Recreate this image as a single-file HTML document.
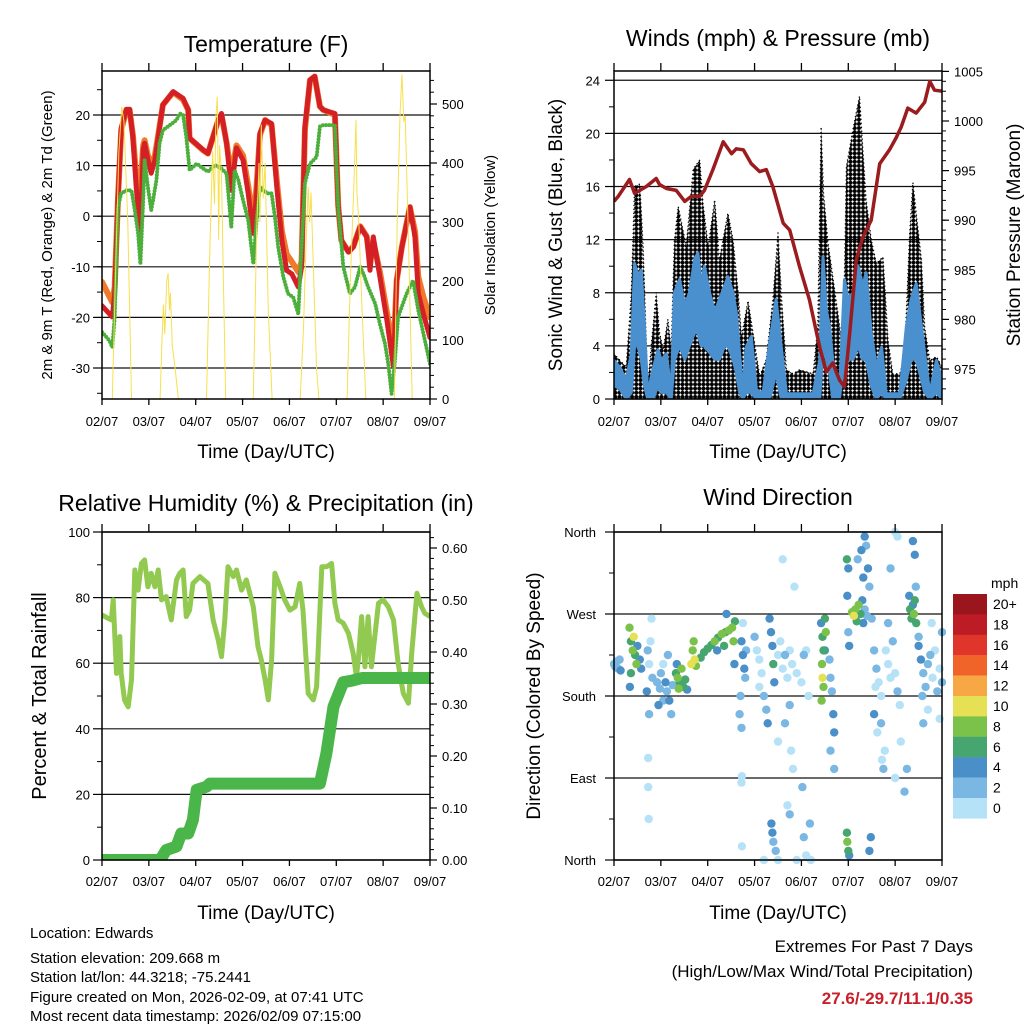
<!DOCTYPE html>
<html><head><meta charset="utf-8"><style>
html,body{margin:0;padding:0;background:#fff;}
svg{display:block;font-family:"Liberation Sans",Arial,sans-serif;}
</style></head><body>
<svg id="fig" width="1024" height="1024" viewBox="0 0 1024 1024" xmlns="http://www.w3.org/2000/svg">
<defs>
<pattern id="gustdots" width="4.2" height="4.2" patternUnits="userSpaceOnUse"><circle cx="2.1" cy="2.1" r="2.05" fill="#000"/></pattern>
<clipPath id="c1"><rect x="102" y="71" width="328" height="328"/></clipPath>
<clipPath id="c2"><rect x="614" y="71" width="328" height="328"/></clipPath>
<clipPath id="c3"><rect x="102" y="532" width="328" height="328"/></clipPath>
<clipPath id="c4"><rect x="610" y="528" width="336" height="336"/></clipPath>
</defs>
<text x="266" y="52" font-size="23" text-anchor="middle">Temperature (F)</text>
<text x="778" y="46" font-size="23" text-anchor="middle">Winds (mph) &amp; Pressure (mb)</text>
<text x="266" y="511" font-size="23" text-anchor="middle">Relative Humidity (%) &amp; Precipitation (in)</text>
<text x="778" y="505" font-size="23" text-anchor="middle">Wind Direction</text>

<text transform="translate(52,235) rotate(-90)" font-size="15" text-anchor="middle">2m &amp; 9m T (Red, Orange) &amp; 2m Td (Green)</text>
<text transform="translate(495,235) rotate(-90)" font-size="15" text-anchor="middle">Solar Insolation (Yellow)</text>
<text transform="translate(562,235) rotate(-90)" font-size="19" text-anchor="middle">Sonic Wind &amp; Gust (Blue, Black)</text>
<text transform="translate(1020,235) rotate(-90)" font-size="19" text-anchor="middle">Station Pressure (Maroon)</text>
<text transform="translate(46,696) rotate(-90)" font-size="20" text-anchor="middle">Percent &amp; Total Rainfall</text>
<text transform="translate(540,696) rotate(-90)" font-size="19" text-anchor="middle">Direction (Colored By Speed)</text>

<text x="266" y="458" font-size="19" text-anchor="middle">Time (Day/UTC)</text>
<text x="778" y="458" font-size="19" text-anchor="middle">Time (Day/UTC)</text>
<text x="266" y="919" font-size="19" text-anchor="middle">Time (Day/UTC)</text>
<text x="778" y="919" font-size="19" text-anchor="middle">Time (Day/UTC)</text>

<g font-size="15">
<text x="30" y="938">Location: Edwards</text>
<text x="30" y="963">Station elevation: 209.668 m</text>
<text x="30" y="982">Station lat/lon: 44.3218; -75.2441</text>
<text x="30" y="1002">Figure created on Mon, 2026-02-09, at 07:41 UTC</text>
<text x="30" y="1021">Most recent data timestamp: 2026/02/09 07:15:00</text>
</g>
<g text-anchor="end">
<text x="973" y="952" font-size="17">Extremes For Past 7 Days</text>
<text x="973" y="977" font-size="17">(High/Low/Max Wind/Total Precipitation)</text>
<text x="973" y="1004" font-size="17" font-weight="bold" fill="#c8202a">27.6/-29.7/11.1/0.35</text>
</g>
<g id="layer"></g>
</svg>
<script>
// ---------- data ----------
const dayLabels = ['02/07','03/07','04/07','05/07','06/07','07/07','08/07','09/07'];
// Temperature (F)
const tempTimes = [0,0.22,0.27,0.34,0.41,0.52,0.59,0.66,0.73,0.82,0.88,0.91,0.98,1.05,1.13,1.20,1.30,1.52,1.73,1.84,1.87,2.16,2.26,2.37,2.48,2.55,2.66,2.76,2.87,3.01,3.12,3.23,3.30,3.37,3.48,3.62,3.73,3.84,3.94,4.05,4.19,4.26,4.33,4.44,4.54,4.65,4.72,4.97,5.04,5.11,5.26,5.36,5.51,5.65,5.72,5.79,5.93,6.08,6.22,6.29,6.40,6.57,6.68,6.75,6.86,7.0];
const temp2mRed = [-17.7,-19.9,-15.3,3.2,17.4,21.1,21.1,15.6,5.8,-3.4,13.1,14.4,11.1,8.5,11.1,15.7,22.0,24.6,23.3,21.0,15.4,13.1,12.4,15.7,19.0,20.3,14.4,5.1,13.5,11.1,4.5,-3.4,4.5,16.4,19.0,18.3,5.8,-4.8,-10.7,-11.4,-14.0,-10.0,17.7,26.9,27.6,21.7,21.0,20.3,2.2,-4.8,-7.1,-6.1,-2.1,-4.1,-10.7,-4.1,-12.0,-20.6,-29.8,-12.7,-6.1,1.8,-4.1,-15.3,-19.3,-24.0];
const temp9mOrange = [-13,-17,-14,3,17,21,21,16,8,5,14,15,12,10,12,16,22,24.5,23,21,15.4,13,12.4,15.7,19,20,14.5,8,14,12,6,-1,6,16,19,18,7,-3,-7.5,-9,-11,-9,17,26.9,27.6,21.7,21,20,2,-4.8,-7,-6,-2,-4,-9,-5,-11,-19,-27,-12.7,-6,1.8,-3,-12,-16,-20];
const dewTimes = [0,0.16,0.22,0.27,0.34,0.41,0.52,0.63,0.70,0.77,0.82,0.88,0.91,0.98,1.05,1.09,1.16,1.23,1.30,1.45,1.59,1.66,1.73,1.80,1.87,2.02,2.16,2.26,2.41,2.55,2.66,2.76,2.83,2.91,3.01,3.12,3.23,3.30,3.37,3.44,3.55,3.62,3.69,3.76,3.87,3.97,4.08,4.19,4.26,4.33,4.44,4.58,4.65,4.72,4.97,5.04,5.15,5.29,5.40,5.51,5.58,5.68,5.83,5.93,6.04,6.11,6.18,6.25,6.32,6.50,6.64,6.75,6.86,7.0];
const dewGreen = [-22.9,-24.6,-25.9,-19.9,1.8,4.5,5.1,5.1,1.2,-3.4,-9.4,3.2,11.1,5.8,1.2,3.2,7.1,14.4,17.0,18.0,19.0,20.3,20.0,15.7,9.1,10.4,9.4,8.8,10.1,9.4,8.4,-2.1,9.1,7.1,3.2,-0.8,-9.4,-0.8,5.8,5.1,4.5,4.5,-0.1,-6.1,-12.0,-15.3,-16.0,-19.3,-6.1,6.5,10.4,11.7,17.7,18.0,18.0,1.8,-10.0,-15.3,-14.0,-10.0,-11.4,-14.0,-17.3,-21.3,-25.2,-29.2,-35.1,-28.5,-19.9,-15.3,-12.7,-18.6,-23.2,-29.2];
const solarTimes = [0,0.22,0.30,0.36,0.42,0.47,0.55,0.63,1.24,1.28,1.31,1.34,1.38,1.41,1.44,1.46,1.50,1.55,1.63,2.23,2.30,2.36,2.40,2.43,2.46,2.49,2.51,2.55,2.59,2.64,3.23,3.30,3.35,3.37,3.40,3.44,3.48,3.55,3.63,4.23,4.30,4.35,4.40,4.43,4.46,4.52,4.58,4.63,5.23,5.30,5.36,5.42,5.44,5.48,5.55,5.63,6.24,6.30,6.36,6.40,6.44,6.47,6.53,6.62,7.0];
const solarYellow = [0,0,250,420,495,470,300,0,0,100,160,110,200,213,150,180,90,60,0,0,250,420,330,480,512,270,430,380,200,0,0,280,400,300,465,340,400,150,0,0,120,250,360,300,350,200,50,0,0,200,330,473,350,300,150,0,0,300,480,550,470,480,300,0,0];
// Winds (mph) & pressure (mb)
const windTimes = [0,0.12,0.26,0.37,0.44,0.51,0.58,0.65,0.72,0.83,0.94,1.01,1.12,1.22,1.29,1.40,1.51,1.61,1.72,1.79,1.86,1.93,2.04,2.15,2.25,2.36,2.43,2.54,2.61,2.68,2.75,2.82,2.93,3.04,3.18,3.32,3.46,3.57,3.68,3.96,4.25,4.39,4.46,4.53,4.60,4.67,4.81,4.92,4.99,5.10,5.21,5.31,5.38,5.49,5.60,5.71,5.81,6.10,6.24,6.34,6.45,6.56,6.63,6.74,6.88,7.0];
const windHigh = [2.9,2.4,1.4,3.4,10.2,9.2,9.7,5.5,0.4,2.2,3.7,2.9,3.4,0.4,8.0,9.0,7.0,8.0,10.5,11.0,8.5,10.0,8.0,6.5,7.5,8.5,9.2,8.0,6.5,3.4,0.4,3.9,4.7,0.7,0.4,4.2,7.5,3.9,0.4,0.4,0.4,2.9,10.7,6.7,5.5,2.9,0.4,9.0,7.5,8.0,10.0,8.5,9.5,5.0,2.4,3.9,0.4,0.4,5.5,7.5,8.7,5.5,3.4,0.4,2.9,1.4];
const windLow = [1.0,0.8,0,0.5,4,4,3,1,0,0,1,0.5,0.5,0,3,4,3,4,5,5,4,4,3.5,3,3,4,4,3,2,0.5,0,0.5,0.5,0,0,0,2,0,0,0,0,0,4,3,2,0,0,3,3,3,4,3,3,1,0,0.5,0,0,1.5,3,3,1.5,0.5,0,0.5,0];
const gustTimes = [0,0.26,0.37,0.44,0.55,0.62,0.72,0.80,0.90,0.97,1.05,1.15,1.22,1.29,1.37,1.54,1.69,1.83,1.90,2.01,2.15,2.25,2.43,2.54,2.65,2.72,2.86,2.97,3.11,3.25,3.39,3.50,3.57,3.68,3.82,3.96,4.25,4.35,4.42,4.47,4.57,4.67,4.78,4.89,4.96,5.10,5.24,5.31,5.38,5.49,5.60,5.74,5.85,5.95,6.10,6.20,6.31,6.38,6.45,6.56,6.63,6.74,6.88,7.0];
const gustBlack = [3.4,2.4,7.9,16.0,16.2,11.5,1.0,4.2,8.0,5.0,3.7,6.0,3.7,11.9,14.5,11.5,17.3,18.0,14.7,11.5,15.0,10.5,14.0,12.0,8.0,4.7,7.4,4.9,1.7,3.0,7.4,12.5,7.9,2.2,1.9,2.2,1.9,5.4,20.5,15.5,11.7,9.2,6.4,3.4,17.5,20.3,22.8,18.8,15.0,12.0,10.2,10.7,4.4,1.9,1.9,3.2,12.5,16.3,14.0,10.5,5.4,2.9,3.2,2.4];
const pressTimes = [0,0.09,0.33,0.44,0.55,0.69,0.90,0.97,1.12,1.33,1.51,1.65,1.83,1.93,2.11,2.33,2.51,2.61,2.76,2.93,3.11,3.25,3.39,3.61,3.75,3.96,4.17,4.39,4.53,4.67,4.81,4.92,5.03,5.17,5.31,5.49,5.67,5.88,6.02,6.13,6.27,6.45,6.63,6.74,6.84,7.0];
const pressMaroon = [991.9,992.4,994.1,992.7,993.0,993.4,994.2,993.6,993.2,993.0,991.9,992.4,992.4,993.0,995.1,997.9,996.7,997.2,997.1,995.7,994.9,995.1,993.4,989.7,989.0,985.3,982.0,977.2,974.7,975.6,973.9,973.2,978.6,986.0,988.3,990.0,995.7,997.1,998.3,999.4,1001.3,1000.8,1001.9,1004.0,1003.1,1003.0];
// Relative humidity (%) & precipitation (in)
const rhTimes = [0,0.13,0.20,0.24,0.31,0.38,0.41,0.48,0.56,0.63,0.70,0.77,0.84,0.91,0.98,1.05,1.13,1.20,1.27,1.37,1.48,1.59,1.66,1.73,1.80,1.87,1.94,2.09,2.26,2.37,2.48,2.55,2.62,2.69,2.80,2.87,2.98,3.08,3.23,3.33,3.40,3.48,3.55,3.62,3.69,3.80,3.90,4.01,4.12,4.22,4.29,4.40,4.51,4.58,4.69,4.79,4.90,4.97,5.04,5.15,5.26,5.36,5.43,5.47,5.54,5.61,5.68,5.75,5.90,6.00,6.11,6.22,6.32,6.43,6.54,6.61,6.72,6.82,6.89,7.0];
const rhValues = [74.7,73.7,73.2,79.3,56.9,68.1,56.9,48.8,46.7,54.9,88.4,82.3,90.4,91.5,83.3,87.4,83.3,88.4,79.3,80.3,73.2,85.4,87.4,88.4,74.2,76.2,84.3,86.4,84.3,73.2,67.1,62.0,73.2,89.4,86.4,88.4,82.3,85.4,77.2,65.0,61.0,54.9,48.8,61.0,87.4,83.3,79.3,76.2,77.2,84.3,76.2,50.8,48.8,52.8,89.4,89.4,90.4,78.3,73.2,72.2,69.1,63.0,55.9,61.0,74.2,58.9,74.2,58.9,78.3,79.3,77.2,73.2,60.0,50.8,47.8,63.0,81.3,77.2,75.2,74.2];
const rainTimes = [0,1.24,1.37,1.59,1.69,1.84,1.94,2.02,2.23,2.30,2.94,4.65,4.79,4.94,5.15,5.34,5.55,7.0];
const rainValues = [0,0,0.019,0.026,0.051,0.051,0.077,0.135,0.141,0.147,0.147,0.147,0.205,0.295,0.342,0.345,0.35,0.35];
// Wind direction (deg) colored by speed (mph)
const dirT = [0,0.03,0.06,0.09,0.12,0.14,
 0.33,0.36,0.40,0.42,0.45,0.48,0.50,0.36,0.55,0.58,0.34,
 0.72,0.75,0.78,0.82,0.70,0.75,0.92,0.95,0.98,1.0,1.05,1.10,1.13,1.18,1.22,1.25,1.05,1.15,0.73,0.73,0.74,0.8,
 1.32,1.36,1.40,1.44,1.48,1.52,1.56,1.38,1.34,
 1.65,1.68,1.72,1.75,1.70,
 1.85,1.92,2.0,2.08,2.15,2.22,2.30,2.38,2.45,2.52,2.58,2.55,2.35,2.20,2.40,2.57,
 2.72,2.75,2.78,2.80,2.70,2.68,2.72,2.73,2.72,2.73,2.75,2.82,
 3.0,3.05,3.1,3.15,3.2,3.25,3.28,3.32,3.35,3.38,3.40,3.42,3.36,3.38,3.40,3.45,3.5,3.55,3.6,3.65,3.7,3.75,3.8,3.78,3.82,3.85,3.6,3.1,3.5,3.65,3.75,3.9,4.0,4.05,4.1,4.15,4.02,4.05,4.1,4.18,3.2,3.5,3.9,4.2,3.7,3.75,
 4.42,4.45,4.47,4.44,4.45,4.47,4.50,4.52,4.50,4.43,4.6,4.62,4.65,4.68,4.70,4.62,4.7,
 4.97,5.0,4.98,5.0,5.02,4.97,4.98,5.0,5.02,
 5.08,5.12,5.15,5.18,5.22,5.26,5.30,5.32,5.35,5.40,5.28,5.32,5.35,5.38,5.42,5.45,5.20,5.5,5.48,5.45,5.55,5.6,5.65,5.58,5.7,5.72,5.75,5.55,5.8,5.85,5.9,5.95,6.0,5.85,5.9,6.05,6.1,6.12,6.0,6.05,5.7,5.62,5.78,
 6.32,6.35,6.38,6.40,6.42,6.45,6.30,6.44,6.38,6.42,6.5,6.55,6.6,6.65,6.7,6.75,6.8,6.85,6.9,6.95,7.0,6.5,6.58,6.6,6.7,6.78,6.95,7.0,6.2,6.25,6.0];
const dirD = [215,212,218,210,220,208,
 255,240,230,245,225,215,235,205,220,210,190,
 230,215,240,200,185,160,195,170,188,205,175,195,185,175,160,192,215,225,112,80,45,265,
 205,200,195,210,190,198,187,188,215,
 215,230,220,213,240,
 222,228,232,236,240,244,248,250,252,255,262,240,235,230,270,215,
 240,225,210,200,180,160,145,92,85,15,260,230,
 245,230,220,205,180,165,150,265,250,235,215,195,40,30,20,10,225,240,210,225,200,230,215,120,100,300,330,190,130,150,170,205,195,225,230,180,80,25,5,40,0,0,0,0,60,50,
 260,245,230,215,200,190,265,250,230,175,220,200,185,160,140,120,100,
 330,320,290,250,235,30,20,10,5,
 272,268,275,262,280,270,285,260,275,268,340,310,355,345,320,300,330,265,25,10,230,210,195,190,150,110,100,160,230,215,200,240,205,260,320,185,170,130,360,355,180,140,120,
 275,265,280,270,285,260,290,300,350,335,235,220,205,190,215,225,200,230,185,210,195,245,180,150,165,260,155,250,75,100,90];
const dirS = [2,2,2,2,2,4,
 8,6,8,10,6,8,4,6,4,4,4,
 2,0,0,2,4,2,2,4,2,2,2,4,2,4,2,2,0,2,0,0,0,0,
 6,8,6,8,6,6,4,8,4,
 10,8,10,8,8,
 6,6,6,6,8,6,8,6,8,8,6,8,6,4,4,4,
 4,4,4,2,2,2,2,0,0,0,0,2,
 2,0,0,0,2,2,4,4,4,4,6,4,4,4,2,2,0,0,0,2,0,0,0,0,0,0,0,0,0,2,2,0,0,2,0,0,2,2,0,2,0,0,0,0,0,2,
 4,6,6,8,10,8,6,8,4,8,2,2,2,4,4,2,2,
 6,4,4,2,4,6,8,6,4,
 8,10,8,6,8,6,4,4,2,2,4,4,4,2,4,2,2,2,4,4,2,2,0,0,2,0,2,4,0,0,0,2,0,2,2,2,0,0,0,0,0,0,0,
 6,6,4,8,6,6,4,2,4,4,4,4,2,2,2,2,0,0,2,0,2,2,2,2,0,0,0,2,2,2,0];
const speedLabels = ['20+','18','16','14','12','10','8','6','4','2','0'];
const speedColors = ['#9a161c','#bd1c26','#e0352b','#f0642a','#f7a845','#e6e055','#7bc24a','#47a670','#4a8fc8','#7ab8e3','#b5e2f7'];

// ---------- helpers ----------
const NS = 'http://www.w3.org/2000/svg';
const layer = document.getElementById('layer');
function mk(tag, attrs, parent) {
  const e = document.createElementNS(NS, tag);
  for (const k in attrs) e.setAttribute(k, attrs[k]);
  (parent || layer).appendChild(e);
  return e;
}
function xScale(L, R) { return d => L + d * (R - L) / 7; }
function linePath(ts, vs, xf, yf) {
  return ts.map((t, i) => (i ? 'L' : 'M') + xf(t).toFixed(1) + ',' + yf(vs[i]).toFixed(1)).join('');
}
function frame(L, T, R, B, labelY, name) {
  const g = mk('g', {});
  
  
  const xf = xScale(L, R);
  dayLabels.forEach((lab, i) => {
    const x = xf(i);
    mk('line', {x1: x, y1: T - 8, x2: x, y2: T, stroke: '#000', 'stroke-width': 1.3}, g);
    mk('line', {x1: x, y1: B, x2: x, y2: B + 6, stroke: '#000', 'stroke-width': 1.3}, g);
    const t = mk('text', {x: x, y: labelY, 'font-size': 13, 'text-anchor': 'middle'}, g);
    
    
    t.textContent = lab;
  });
  mk('rect', {x: L, y: T, width: R - L, height: B - T, fill: 'none', stroke: '#000', 'stroke-width': 1.5}, g);
  return g;
}
function yAxis(vals, labels, yf, x, side, L, R, grid, minor) {
  const g = mk('g', {});
  
  
  vals.forEach((v, i) => {
    const y = yf(v);
    if (side === 'left') {
      mk('line', {x1: L - 9, y1: y, x2: L, y2: y, stroke: '#000', 'stroke-width': 1.2}, g);
      if (grid) mk('line', {x1: L, y1: y, x2: R, y2: y, stroke: '#111', 'stroke-width': 1.2}, g);
    } else {
      mk('line', {x1: R, y1: y, x2: R + 7, y2: y, stroke: '#000', 'stroke-width': 1.2}, g);
    }
    const t = mk('text', {x: x, y: y + 5, 'font-size': 13, 'text-anchor': side === 'left' ? 'end' : 'start'}, g);
    
    
    t.textContent = labels[i];
  });
  (minor || []).forEach(v => {
    const y = yf(v);
    if (side === 'left') mk('line', {x1: L - 5, y1: y, x2: L, y2: y, stroke: '#000', 'stroke-width': 1}, g);
    else mk('line', {x1: R, y1: y, x2: R + 4, y2: y, stroke: '#000', 'stroke-width': 1}, g);
  });
}
function range(a, b, s) { const r = []; for (let v = a; v <= b + 1e-9; v += s) r.push(+v.toFixed(4)); return r; }

// ---------- Panel 1: temperature ----------
(function () {
  const L = 102, R = 430, T = 71, B = 399;
  const xf = xScale(L, R);
  const yT = v => 115 - (v - 20) * 5.06;
  const yS = v => 399 - v * 0.59;
  yAxis([-30,-20,-10,0,10,20], ['-30','-20','-10','0','10','20'], yT, 90, 'left', L, R, true, range(-35, 25, 5));
  yAxis([0,100,200,300,400,500], ['0','100','200','300','400','500'], yS, 442, 'right', L, R, false, range(20, 540, 20));
  const g = mk('g', {'clip-path': 'url(#c1)'});
  
  
  const o = mk('path', {d: linePath(tempTimes, temp9mOrange, xf, yT), fill: 'none', stroke: '#f07a2a', 'stroke-width': 6, 'stroke-linejoin': 'round', 'stroke-linecap': 'round'}, g);
  
  
  const r = mk('path', {d: linePath(tempTimes, temp2mRed, xf, yT), fill: 'none', stroke: '#d42025', 'stroke-width': 5, 'stroke-linejoin': 'round', 'stroke-linecap': 'round'}, g);
  
  
  const gr = mk('path', {d: linePath(dewTimes, dewGreen, xf, yT), fill: 'none', stroke: '#4caf3c', 'stroke-width': 4, 'stroke-dasharray': '0 3.2', 'stroke-linecap': 'round'}, g);
  
  
  const s = mk('path', {d: linePath(solarTimes, solarYellow, xf, yS), fill: 'none', stroke: '#f6e04e', 'stroke-width': 1}, g);
  
  
  frame(L, T, R, B, 426, 'temperature');
})();

// ---------- Panel 2: winds & pressure ----------
(function () {
  const L = 614, R = 942, T = 71, B = 399;
  const xf = xScale(L, R);
  const yW = v => 399 - v * 13.28;
  const yP = v => 121 - (v - 1000) * 9.92;
  yAxis([0,4,8,12,16,20,24], ['0','4','8','12','16','20','24'], yW, 600, 'left', L, R, true, range(2, 22, 4));
  yAxis([975,980,985,990,995,1000,1005], ['975','980','985','990','995','1000','1005'], yP, 954, 'right', L, R, false, range(973, 1005, 1));
  const g = mk('g', {'clip-path': 'url(#c2)'});
  
  
  const gp = linePath(gustTimes, gustBlack, xf, yW) + 'L' + xf(7) + ',' + yW(0) + 'L' + xf(0) + ',' + yW(0) + 'Z';
  const gu = mk('path', {d: gp, fill: 'url(#gustdots)', stroke: '#000', 'stroke-width': 1.5, 'stroke-dasharray': '0 4', 'stroke-linecap': 'round'}, g);
  
  
  const lowRev = windTimes.map((t, i) => 'L' + xf(t).toFixed(1) + ',' + yW(windLow[i]).toFixed(1)).reverse().join('');
  const bp = linePath(windTimes, windHigh, xf, yW) + lowRev + 'Z';
  const bl = mk('path', {d: bp, fill: '#4a90cf', stroke: '#4a90cf', 'stroke-width': 3, 'stroke-linejoin': 'round'}, g);
  
  
  const p = mk('path', {d: linePath(pressTimes, pressMaroon, xf, yP), fill: 'none', stroke: '#9b1c1f', 'stroke-width': 3.5, 'stroke-linejoin': 'round'}, g);
  
  
  frame(L, T, R, B, 426, 'winds');
})();

// ---------- Panel 3: RH & rain ----------
(function () {
  const L = 102, R = 430, T = 532, B = 860;
  const xf = xScale(L, R);
  const yR = v => 860 - v * 3.28;
  const yN = v => 860 - v * 520;
  yAxis([0,20,40,60,80,100], ['0','20','40','60','80','100'], yR, 90, 'left', L, R, true, range(10, 90, 20));
  yAxis([0,0.1,0.2,0.3,0.4,0.5,0.6], ['0.00','0.10','0.20','0.30','0.40','0.50','0.60'], yN, 442, 'right', L, R, false, range(0.02, 0.62, 0.02));
  const g = mk('g', {'clip-path': 'url(#c3)'});
  
  
  const rh = mk('path', {d: linePath(rhTimes, rhValues, xf, yR), fill: 'none', stroke: '#92c950', 'stroke-width': 5, 'stroke-linejoin': 'round'}, g);
  
  
  const rn = mk('path', {d: linePath(rainTimes, rainValues, xf, yN), fill: 'none', stroke: '#4ab548', 'stroke-width': 12, 'stroke-linejoin': 'round', 'stroke-linecap': 'round'}, g);
  
  
  frame(L, T, R, B, 886, 'humidity');
})();

// ---------- Panel 4: wind direction ----------
(function () {
  const L = 614, R = 942, T = 532, B = 860;
  const xf = xScale(L, R);
  const yD = v => 860 - v * (328 / 360);
  yAxis([0,90,180,270,360], ['North','East','South','West','North'], yD, 596, 'left', L, R, true, [45,135,225,315]);
  const g = mk('g', {'clip-path': 'url(#c4)'});
  
  
  const order = dirT.map((t, i) => i).sort((a, b) => dirS[a] - dirS[b]);
  order.forEach(i => {
    const s = dirS[i];
    const idx = s >= 20 ? 0 : 10 - Math.floor(s / 2);
    const c = mk('circle', {cx: xf(dirT[i]).toFixed(1), cy: yD(dirD[i]).toFixed(1), r: 4.2, fill: speedColors[idx]}, g);
    
    
  });
  frame(L, T, R, B, 886, 'direction');
  // colorbar
  const cb = mk('g', {});
  
  
  const u = mk('text', {x: 991, y: 588, 'font-size': 14}, cb);
  
  
  u.textContent = 'mph';
  speedLabels.forEach((lab, i) => {
    const y = 594 + i * 20.4;
    const b = mk('rect', {x: 953, y: y, width: 34, height: 20.6, fill: speedColors[i]}, cb);
    
    
    const t = mk('text', {x: 993, y: y + 15, 'font-size': 14}, cb);
    
    
    t.textContent = lab;
  });
})();
</script>
</body></html>
